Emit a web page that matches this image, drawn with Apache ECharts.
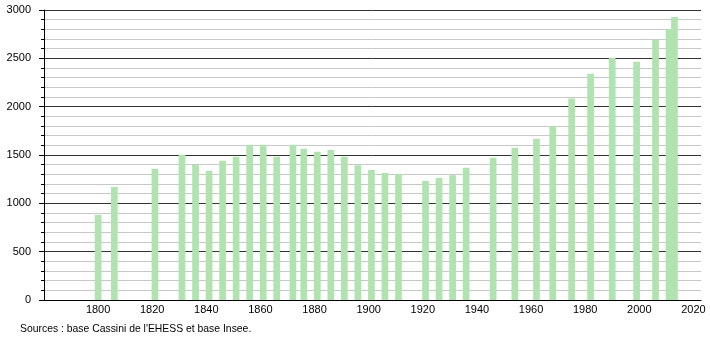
<!DOCTYPE html>
<html>
<head>
<meta charset="utf-8">
<script src="https://cdn.jsdelivr.net/npm/echarts@6/dist/echarts.min.js"></script>
<style>
html,body{margin:0;padding:0;background:#fff;}
#c{width:710px;height:340px;}
</style>
</head>
<body>
<div id="c"></div>
<script>
const years = [1800, 1806, 1821, 1831, 1836, 1841, 1846, 1851, 1856, 1861, 1866, 1872, 1876, 1881, 1886, 1891, 1896, 1901, 1906, 1911, 1921, 1926, 1931, 1936, 1946, 1954, 1962, 1968, 1975, 1982, 1990, 1999, 2006, 2011, 2013];
const population = [880, 1170, 1357, 1502, 1398, 1336, 1440, 1481, 1605, 1605, 1481, 1605, 1564, 1533, 1553, 1481, 1395, 1346, 1315, 1305, 1232, 1264, 1291, 1367, 1471, 1574, 1667, 1799, 2085, 2341, 2506, 2465, 2696, 2800, 2928];
const yTicks = [0, 500, 1000, 1500, 2000, 2500, 3000];
const xTicks = [1800, 1820, 1840, 1860, 1880, 1900, 1920, 1940, 1960, 1980, 2000, 2020];
const sourceText = "Sources : base Cassini de l'EHESS et base Insee.";

const chart = echarts.init(document.getElementById('c'), null, {renderer: 'canvas'});
const font = 'Liberation Sans, Arial, sans-serif';
chart.setOption({
  animation: false,
  backgroundColor: '#fff',
  grid: {left: 44, right: 9, top: 10, bottom: 40, containLabel: false},
  graphic: [{
    type: 'text', left: 20, top: 324,
    style: {text: sourceText, font: '10.4px ' + font, fill: '#000'}
  }],
  xAxis: {
    type: 'value', min: 1780, max: 2022.8, interval: 20,
    axisLine: {show: true, lineStyle: {color: '#000', width: 1}},
    axisTick: {show: false},
    splitLine: {show: false},
    axisLabel: {
      color: '#000', fontFamily: font, fontSize: 11, margin: 4,
      showMinLabel: true, showMaxLabel: true,
      formatter: v => (xTicks.indexOf(Math.round(v * 10) / 10) >= 0 ? String(v) : '')
    }
  },
  yAxis: {
    type: 'value', min: 0, max: 3000, interval: 500,
    axisLine: {show: true, lineStyle: {color: '#000', width: 1}},
    axisTick: {show: true, length: 5, lineStyle: {color: '#000'}},
    minorTick: {show: true, splitNumber: 5, length: 3, lineStyle: {color: '#000'}},
    splitLine: {show: true, lineStyle: {color: '#333', width: 1}},
    minorSplitLine: {show: true, lineStyle: {color: '#c8c8c8', width: 1}},
    axisLabel: {
      color: '#000', fontFamily: font, fontSize: 11, margin: 13,
      formatter: v => (yTicks.indexOf(v) >= 0 ? String(v) : '')
    }
  },
  series: [{
    type: 'bar',
    barWidth: 6.7,
    itemStyle: {color: '#b0e3b0'},
    data: years.map((y, i) => [y, population[i]])
  }]
});
</script>
</body>
</html>
